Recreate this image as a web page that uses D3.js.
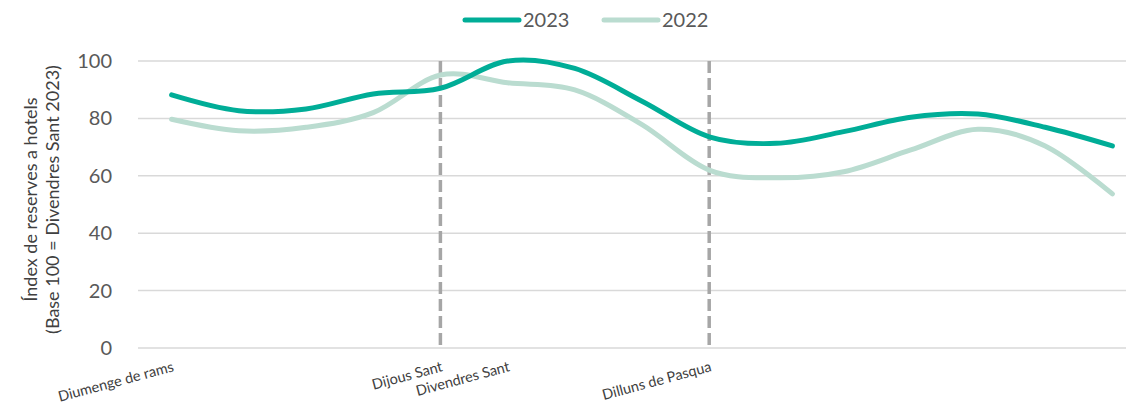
<!DOCTYPE html>
<html>
<head>
<meta charset="utf-8">
<script src="https://d3js.org/d3.v7.min.js"></script>
<style>
  body { margin: 0; background: #fff; }
  svg text { font-family: Lato, "Open Sans", sans-serif; }
</style>
</head>
<body>
<div id="chart"></div>
<script>
// days from Diumenge de rams, only some of them carry a label
const days = d3.range(15);
const dayLabels = ["Diumenge de rams", "", "", "", "Dijous Sant", "Divendres Sant", "", "", "Dilluns de Pasqua", "", "", "", "", "", ""];
const values2023 = [88.2, 82.7, 83.3, 88.5, 90.5, 100, 97.4, 86, 73.6, 71.3, 75.4, 80.4, 81.5, 76.9, 70.4];
const values2022 = [79.7, 75.7, 76.9, 82, 95.1, 92.4, 89.9, 77.8, 62, 59.3, 61.4, 69, 76.2, 70.4, 53.7];
const yTicks = [0, 20, 40, 60, 80, 100];
const markerDays = [4, 8];

const series = [
    { name: "2023", values: values2023, color: "#00ad97" },
    { name: "2022", values: values2022, color: "#badcd0" }
];

const width = 1126, height = 405;
const margin = { top: 61, bottom: 57, left: 138 };
const plotRight = 1146; // the plot runs past the right edge of the picture

const svg = d3.select("#chart")
    .append("svg")
    .attr("width", width)
    .attr("height", height);

const x = d3.scalePoint()
    .domain(days)
    .range([margin.left, plotRight])
    .padding(0.5);

const y = d3.scaleLinear()
    .domain([0, 100])
    .range([height - margin.bottom, margin.top]);

// gridlines
svg.append("g")
    .selectAll("line")
    .data(yTicks)
    .join("line")
    .attr("x1", margin.left)
    .attr("x2", plotRight)
    .attr("y1", d => y(d))
    .attr("y2", d => y(d))
    .attr("stroke", "#d9d9d9")
    .attr("stroke-width", 1.5);

// y tick labels
svg.append("g")
    .selectAll("text")
    .data(yTicks)
    .join("text")
    .attr("x", margin.left - 26)
    .attr("y", d => y(d))
    .attr("dy", "0.35em")
    .attr("text-anchor", "end")
    .attr("fill", "#595959")
    .style("font-size", "20px")
    .text(d => d);

// y axis title
const yTitle = svg.append("text")
    .attr("transform", `translate(37, ${(y(0) + y(100)) / 2 - 5}) rotate(-90)`)
    .attr("text-anchor", "middle")
    .attr("fill", "#404040")
    .style("font-size", "18px");
yTitle.append("tspan").attr("x", 0).attr("dy", 0).text("Índex de reserves a hotels");
yTitle.append("tspan").attr("x", 0).attr("dy", 22).text("(Base 100 = Divendres Sant 2023)");

// dashed markers
svg.append("g")
    .selectAll("line")
    .data(markerDays)
    .join("line")
    .attr("x1", d => x(d))
    .attr("x2", d => x(d))
    .attr("y1", y(100))
    .attr("y2", y(0))
    .attr("stroke", "#a6a6a6")
    .attr("stroke-width", 3.5)
    .attr("stroke-dasharray", "12,5");

// x labels, rotated
svg.append("g")
    .selectAll("text")
    .data(days.filter(d => dayLabels[d] !== ""))
    .join("text")
    .attr("transform", d => `translate(${x(d) + 3}, ${y(0) + 23}) rotate(-15)`)
    .attr("text-anchor", "end")
    .attr("fill", "#404040")
    .style("font-size", "14.5px")
    .text(d => dayLabels[d]);

// lines, smoothed like the original
const line = d3.line()
    .x((d, i) => x(days[i]))
    .y(d => y(d))
    .curve(d3.curveCatmullRom.alpha(0));

// draw 2022 first so 2023 sits on top
svg.append("g")
    .selectAll("path")
    .data(series.slice().reverse())
    .join("path")
    .attr("d", d => line(d.values))
    .attr("fill", "none")
    .attr("stroke", d => d.color)
    .attr("stroke-width", 5)
    .attr("stroke-linecap", "round")
    .attr("stroke-linejoin", "round");

// legend
const legend = svg.append("g")
    .selectAll("g")
    .data(series)
    .join("g")
    .attr("transform", (d, i) => `translate(${465 + i * 139}, 20)`);

legend.append("line")
    .attr("x1", 0)
    .attr("x2", 54)
    .attr("stroke", d => d.color)
    .attr("stroke-width", 5)
    .attr("stroke-linecap", "round");

legend.append("text")
    .attr("x", 58)
    .attr("dy", "0.35em")
    .attr("fill", "#595959")
    .style("font-size", "20px")
    .text(d => d.name);
</script>
</body>
</html>
